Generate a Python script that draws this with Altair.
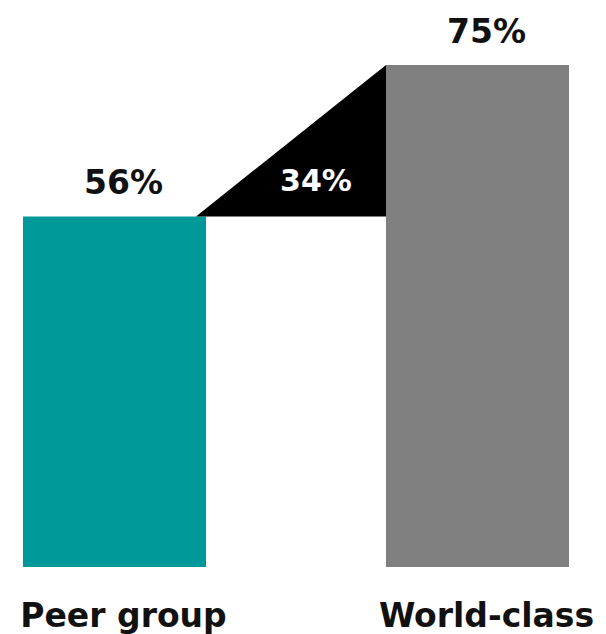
import altair as alt
import pandas as pd

# ---- data ----
categories = ["Peer group", "World-class"]
values = [56, 75]
value_labels = ["56%", "75%"]
gap_label = "34%"
bar_colors = ["#009999", "#808080"]

# ---- layout / style constants ----
W, H = 590, 626
BAR_PX = 183
X_RANGE = [106.5, 469.5]          # pixel centres of the two bars
Y_DOMAIN = [12, 75]
Y_RANGE = [559, 57]
FONT = "DejaVu Sans"

half = (BAR_PX / 2) / (X_RANGE[1] - X_RANGE[0])
tip_shift = 10 / (X_RANGE[1] - X_RANGE[0])

bars = pd.DataFrame({
    "idx": list(range(len(categories))),
    "category": categories,
    "value": values,
    "label": value_labels,
    "base": [Y_DOMAIN[0]] * len(categories),
})

tri = pd.DataFrame({
    "x": [0 + half - tip_shift, 1 - half],
    "top": [values[0], values[1]],
    "bottom": [values[0], values[0]],
})

gap = pd.DataFrame({"x": [0.5], "y": [values[0]], "label": [gap_label]})

xs = alt.Scale(domain=[0, 1], range=X_RANGE, padding=0, nice=False, zero=False)
ys = alt.Scale(domain=Y_DOMAIN, range=Y_RANGE, zero=False, nice=False, padding=0)

base = alt.Chart(bars)

bar_layer = base.mark_bar(size=BAR_PX).encode(
    x=alt.X("idx:Q", scale=xs, axis=None),
    y=alt.Y("value:Q", scale=ys, axis=None),
    y2="base:Q",
    color=alt.Color("category:N", scale=alt.Scale(domain=categories, range=bar_colors), legend=None),
)

tri_layer = alt.Chart(tri).mark_area(color="#000000", opacity=1).encode(
    x=alt.X("x:Q", scale=xs, axis=None),
    y=alt.Y("top:Q", scale=ys, axis=None),
    y2="bottom:Q",
)

val_text = base.mark_text(
    font=FONT, fontWeight="bold", fontSize=33, color="#111111",
    baseline="alphabetic", dy=-22, dx=9,
).encode(
    x=alt.X("idx:Q", scale=xs, axis=None),
    y=alt.Y("value:Q", scale=ys, axis=None),
    text="label:N",
)

cat_text = base.mark_text(
    font=FONT, fontWeight="bold", fontSize=33, color="#111111",
    baseline="alphabetic", dy=60, dx=9,
).encode(
    x=alt.X("idx:Q", scale=xs, axis=None),
    y=alt.Y("base:Q", scale=ys, axis=None),
    text="category:N",
)

gap_text = alt.Chart(gap).mark_text(
    font=FONT, fontWeight="bold", fontSize=30, color="#ffffff",
    baseline="alphabetic", dy=-25, dx=20,
).encode(
    x=alt.X("x:Q", scale=xs, axis=None),
    y=alt.Y("y:Q", scale=ys, axis=None),
    text="label:N",
)

chart = alt.layer(bar_layer, tri_layer, val_text, cat_text, gap_text).properties(
    width=W, height=H, padding=0,
    autosize=alt.AutoSizeParams(type="none"),
).configure(background="#ffffff").configure_view(stroke=None)

chart.save("out.html", embed_options={"renderer": "svg", "actions": False})
